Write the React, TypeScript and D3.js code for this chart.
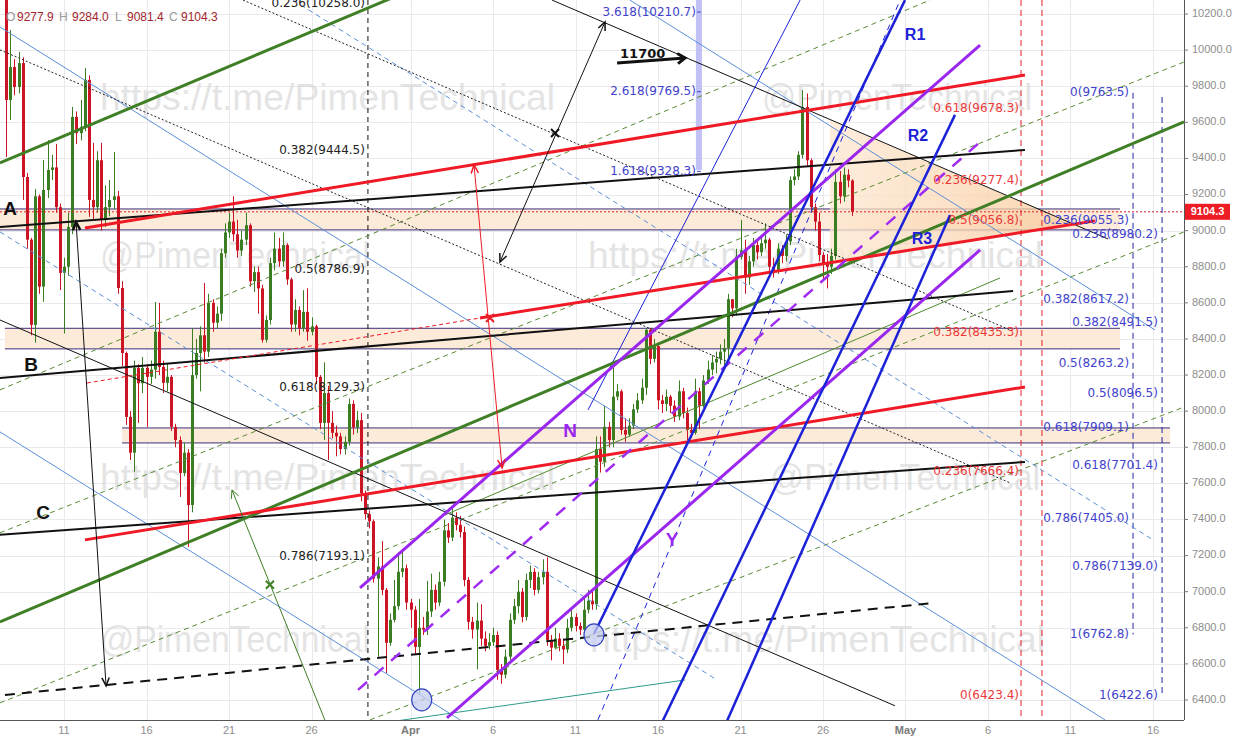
import React from "react";
import * as d3 from "d3";

const WIDTH = 1241;
const HEIGHT = 737;
const PLOT_RIGHT = 1184;
const PLOT_BOTTOM = 720;

const BASE = Date.UTC(2018, 2, 11);
const DAY_MS = 86400000;
const at = (d: number) => new Date(BASE + d * DAY_MS);

const dateTicks = ["2018-03-11", "2018-03-16", "2018-03-21", "2018-03-26", "2018-04-01", "2018-04-06", "2018-04-11", "2018-04-16", "2018-04-21", "2018-04-26", "2018-05-01", "2018-05-06", "2018-05-11", "2018-05-16"];
const priceTicks = [6400, 6600, 6800, 7000, 7200, 7400, 7600, 7800, 8000, 8200, 8400, 8600, 8800, 9000, 9200, 9400, 9600, 9800, 10000, 10200];

// 6h candles, first one opens Mar 7 12:00 (day -3.5 relative to Mar 11)
const CANDLE_START = -3.5;
const CANDLE_STEP = 0.25;
const FIRST_OPEN = 10350;
const closes = [9724, 9906, 9796, 9928, 9297, 8950, 8478, 9190, 8690, 9225, 9336, 9350, 9130, 8766, 8800, 9020, 9630, 9540, 9575, 9835, 9170, 9130, 9390, 9060, 9130, 9170, 9190, 8682, 8322, 7968, 7770, 8240, 8155, 8240, 8190, 8230, 8440, 8245, 8157, 8190, 7913, 7840, 7658, 7770, 7480, 8200, 8322, 8420, 8330, 8600, 8490, 8540, 8875, 8990, 9050, 8980, 8890, 8950, 9030, 8720, 8770, 8680, 8395, 8505, 8820, 8900, 8830, 8920, 8730, 8480, 8560, 8460, 8550, 8440, 8470, 8190, 7935, 8100, 7935, 7880, 7860, 7790, 7830, 8040, 7910, 7950, 7545, 7430, 7390, 7072, 7140, 7010, 6717, 6844, 6920, 7110, 7130, 6940, 6900, 6694, 6800, 6790, 6890, 7010, 6940, 7055, 7340, 7300, 7410, 7370, 7330, 7065, 6833, 6790, 6840, 6740, 6700, 6720, 6760, 6567, 6540, 6640, 6844, 6920, 7000, 6860, 7065, 7110, 7010, 7080, 7110, 6733, 6690, 6740, 6700, 6680, 6800, 6860, 6810, 6790, 6900, 6950, 6930, 7790, 7720, 7913, 7840, 8080, 8110, 7896, 7870, 7920, 8010, 8060, 8130, 8450, 8290, 8360, 8060, 8040, 8080, 8030, 7970, 8110, 7990, 7896, 7880, 8110, 8030, 8170, 8230, 8270, 8290, 8330, 8350, 8620, 8570, 8855, 8890, 8740, 8830, 8920, 8880, 8930, 8950, 8800, 8780, 8900, 8860, 8940, 9280, 9300, 9420, 9685, 9390, 9130, 9050, 8865, 8820, 8800, 8860, 9270, 9190, 9310, 9278, 9104.3];
const highs = [10420, 10111, 9950, 9990, 9960, 9320, 8960, 9230, 9200, 9391, 9502, 9420, 9480, 9150, 8850, 9100, 9685, 9660, 9724, 9900, 9860, 9486, 9440, 9486, 9250, 9280, 9436, 9220, 8720, 8330, 8000, 8280, 8260, 8300, 8260, 8280, 8605, 8600, 8280, 8260, 8200, 7930, 7860, 7824, 7790, 8461, 8400, 8470, 8710, 8650, 8620, 8580, 8900, 9040, 9100, 9190, 9060, 9000, 9100, 9040, 8800, 8800, 8700, 8530, 8850, 8990, 8960, 8990, 8930, 8740, 8620, 8580, 8670, 8680, 8520, 8480, 8200, 8270, 8140, 8000, 7920, 7880, 7860, 8070, 8060, 8000, 7990, 7560, 7450, 7400, 7190, 7280, 7020, 6880, 7065, 7220, 7220, 7150, 6960, 6920, 6960, 6860, 7060, 7100, 7040, 7110, 7400, 7380, 7470, 7440, 7420, 7360, 7080, 6860, 6940, 6930, 6780, 6770, 6800, 6780, 6600, 6680, 6880, 6960, 7065, 7020, 7100, 7145, 7130, 7110, 7180, 7190, 6760, 6800, 6770, 6740, 6850, 6900, 6880, 6830, 6960, 7010, 7000, 7860, 7860, 8030, 7940, 8240, 8150, 8120, 7960, 7960, 8040, 8100, 8180, 8460, 8460, 8400, 8380, 8090, 8120, 8090, 8060, 8170, 8130, 8020, 7930, 8180, 8130, 8200, 8280, 8310, 8330, 8370, 8400, 8650, 8620, 8900, 9060, 8950, 8860, 8960, 8940, 8960, 9040, 8960, 8850, 8930, 8920, 8980, 9300, 9340, 9440, 9779, 9760, 9400, 9150, 9100, 8880, 8870, 8900, 9340, 9330, 9350, 9340, 9284.0];
const lows = [9408, 9613, 9750, 9760, 9170, 8900, 8420, 8380, 8650, 8605, 9180, 9280, 9100, 8671, 8430, 8750, 8980, 9480, 9500, 9550, 9076, 9060, 9100, 9000, 9020, 9080, 9120, 8650, 8250, 7924, 7730, 7664, 7935, 8100, 7913, 8150, 8180, 8200, 8100, 8110, 7890, 7800, 7525, 7640, 7248, 7440, 8180, 8110, 8270, 8300, 8440, 8460, 8500, 8850, 8960, 8940, 8850, 8860, 8920, 8690, 8660, 8540, 8380, 8380, 8480, 8780, 8800, 8800, 8700, 8440, 8440, 8420, 8440, 8390, 8420, 8150, 7900, 7840, 7730, 7850, 7750, 7760, 7760, 7810, 7870, 7880, 7500, 7400, 7350, 7050, 6640, 6980, 6550, 6700, 6830, 6900, 7080, 6900, 6800, 6650, 6430, 6760, 6760, 6860, 6900, 6920, 7030, 7270, 7280, 7340, 7300, 7030, 6790, 6740, 6570, 6700, 6670, 6680, 6700, 6512, 6490, 6520, 6620, 6820, 6880, 6830, 6840, 7020, 6980, 6990, 7040, 6700, 6620, 6680, 6670, 6600, 6660, 6780, 6780, 6760, 6780, 6880, 6900, 6900, 7660, 7690, 7800, 7800, 8060, 7870, 7830, 7860, 7900, 7990, 8040, 8090, 8260, 8270, 8010, 7990, 8000, 7990, 7940, 7950, 7960, 7840, 7850, 7870, 7900, 8020, 8150, 8200, 8210, 8260, 8250, 8270, 8520, 8530, 8840, 8650, 8700, 8800, 8840, 8860, 8900, 8770, 8740, 8760, 8820, 8830, 8920, 9250, 9280, 9400, 9360, 9100, 9000, 8830, 8730, 8680, 8760, 8840, 9150, 9160, 9240, 9081.4];
const lastBar = { open: 9277.9, high: 9284.0, low: 9081.4, close: 9104.3 };

type Pt = [number, number]; // [day offset from Mar 11, price]
type Seg = [Pt, Pt];

const greenThick: Seg[] = [[[-3.88, 9375], [22, 10371]], [[-3.88, 6833], [67.88, 9602]]];
const redThick: Seg[] = [[[1.27, 9015], [58.24, 9862]], [[25.21, 8516], [62.48, 9054]], [[1.27, 7287], [58.24, 8134]]];
const redDashed: Seg[] = [[[1.39, 8156], [25.21, 8516]]];
const blackThick: Seg[] = [[[-3.88, 9020], [58.24, 9447]], [[-3.88, 8184], [57.52, 8666]], [[-3.88, 7315], [58.24, 7719]]];
const blackDashedThick: Seg[] = [[[-3.58, 6428], [52.79, 6938]]];
const blackDotted: Seg[] = [[[-3.88, 10001], [57.33, 7603]], [[10.85, 10277], [57.33, 8450]]];
const blackThin: Seg[] = [[[29.58, 10277], [63.27, 8954]], [[-3.88, 8505], [50.36, 6368]]];
const lightBlue: Seg[] = [[[-3.88, 10128], [63.09, 6290]], [[-3.88, 7885], [24.0, 6290]], [[34.3, 10277], [66.12, 8450]]];
const lightBlueDashed: Seg[] = [[[-3.88, 8993], [39.58, 6511]], [[13.88, 10277], [66.0, 7287]]];
const purpleThick: Seg[] = [[[17.94, 7021], [55.52, 10028]], [[23.21, 6301], [55.52, 8893]]];
const purpleDashed: Seg[] = [[[17.82, 6456], [55.52, 9491]]];
const greenDashed: Seg[] = [[[-3.88, 8118], [52.48, 10277]], [[-3.88, 7326], [67.88, 9934]], [[-3.88, 6384], [67.88, 8993]], [[18.55, 6290], [67.88, 8023]]];
const greenThin: Seg[] = [[[23.09, 7425], [56.73, 8738]]];
const tealThin: Seg[] = [[[19.76, 6279], [37.64, 6511]]];
const blueThick: Seg[] = [[[32.12, 6766], [50.97, 10277]], [[35.82, 6196], [54.0, 9641]], [[39.76, 6196], [53.7, 9087]]];
const blueThin: Seg[] = [[[31.76, 8007], [44.61, 10277]]];
const blueDashed: Seg[] = [[[32.36, 6290], [50.67, 10277]]];

const doubleArrowsBlack: Seg[] = [[[0.73, 9048], [2.55, 6478]], [[26.42, 8826], [32.79, 10156]]];
const doubleArrowsRed: Seg[] = [[[24.85, 9364], [26.55, 7686]]];
const arrow11700: Seg = [[33.52, 9929], [37.64, 9956]];
const greenArrow: Seg = [[16.0, 6246], [10.18, 7564]];

const zones = [
  { from: -3.88, to: 64.0, top: 9120, bottom: 9004 },
  { from: -3.58, to: 64.0, top: 8459, bottom: 8345 },
  { from: 3.52, to: 67.03, top: 7907, bottom: 7824 },
];
const triangle: Pt[] = [[46.42, 9613], [61.15, 9037], [46.42, 8821]];

const fibBlack = [
  { t: "0.236(10258.0)", p: 10258.0 }, { t: "0.382(9444.5)", p: 9444.5 }, { t: "0.5(8786.9)", p: 8786.9 },
  { t: "0.618(8129.3)", p: 8129.3 }, { t: "0.786(7193.1)", p: 7193.1 },
];
const fibRed = [
  { t: "0.618(9678.3)", p: 9678.3 }, { t: "0.236(9277.4)", p: 9277.4 }, { t: "0.5(9056.8)", p: 9056.8 },
  { t: "0.382(8435.3)", p: 8435.3 }, { t: "0.236(7666.4)", p: 7666.4 }, { t: "0(6423.4)", p: 6423.4 },
];
const fibBlueExt = [{ t: "3.618(10210.7)", p: 10210.7 }, { t: "2.618(9769.5)", p: 9769.5 }, { t: "1.618(9328.3)", p: 9328.3 }];
const fibBlueA = [
  { t: "0(9763.5)", p: 9763.5 }, { t: "0.236(9055.3)", p: 9055.3 }, { t: "0.382(8617.2)", p: 8617.2 }, { t: "0.5(8263.2)", p: 8263.2 },
  { t: "0.618(7909.1)", p: 7909.1 }, { t: "0.786(7405.0)", p: 7405.0 }, { t: "1(6762.8)", p: 6762.8 },
];
const fibBlueB = [
  { t: "0.236(8980.2)", p: 8980.2 }, { t: "0.382(8491.5)", p: 8491.5 }, { t: "0.5(8096.5)", p: 8096.5 },
  { t: "0.618(7701.4)", p: 7701.4 }, { t: "0.786(7139.0)", p: 7139.0 }, { t: "1(6422.6)", p: 6422.6 },
];

const letterLabels = [
  { t: "A", d: -3.27, p: 9087, c: "#111" }, { t: "B", d: -2.0, p: 8223, c: "#111" }, { t: "C", d: -1.27, p: 7403, c: "#111" },
  { t: "N", d: 30.67, p: 7857, c: "#9b27ee" }, { t: "Y", d: 36.85, p: 7254, c: "#9b27ee" },
  { t: "R1", d: 51.58, p: 10056, c: "#1c22d8" }, { t: "R2", d: 51.76, p: 9497, c: "#1c22d8" }, { t: "R3", d: 52.0, p: 8926, c: "#1c22d8" },
];
const circles: Pt[] = [[21.68, 6401], [32.12, 6761]];
const crosses = [{ d: 25.82, p: 8516, c: "#ee1c25" }, { d: 29.76, p: 9541, c: "#111" }, { d: 12.48, p: 7038, c: "#3f7f25" }];

const watermarks = [
  { t: "https://t.me/PimenTechnical", x: 100, y: 110, w: 455 }, { t: "@PimenTechnical", x: 762, y: 110, w: 270 },
  { t: "@PimenTechnical", x: 100, y: 268, w: 270 }, { t: "https://t.me/PimenTechnical", x: 588, y: 268, w: 455 },
  { t: "https://t.me/PimenTechnical", x: 100, y: 490, w: 455 }, { t: "@PimenTechnical", x: 770, y: 490, w: 270 },
  { t: "@PimenTechnical", x: 100, y: 652, w: 270 }, { t: "https://t.me/PimenTechnical", x: 590, y: 652, w: 455 },
];

const xScale = d3.scaleUtc().domain([at(0), at(66)]).range([64, 64 + 66 * 16.5]);
const yScale = d3.scaleLinear().domain([6400, 10200]).range([700, 14]);
const X = (d: number) => xScale(at(d));

function head(x1: number, y1: number, x2: number, y2: number, len = 9, ang = 0.42) {
  const a = Math.atan2(y2 - y1, x2 - x1);
  const ax = x2 - len * Math.cos(a - ang), ay = y2 - len * Math.sin(a - ang);
  const bx = x2 - len * Math.cos(a + ang), by = y2 - len * Math.sin(a + ang);
  return `M${ax},${ay}L${x2},${y2}L${bx},${by}`;
}

function Lines({ segs, stroke, width, dash, opacity }: { segs: Seg[]; stroke: string; width: number; dash?: string; opacity?: number }) {
  return (
    <g stroke={stroke} strokeWidth={width} strokeDasharray={dash} opacity={opacity} fill="none">
      {segs.map((s, i) => (
        <line key={i} x1={X(s[0][0])} y1={yScale(s[0][1])} x2={X(s[1][0])} y2={yScale(s[1][1])} />
      ))}
    </g>
  );
}

export default function App() {
  const candles = closes.map((c, i) => {
    const open = i === 0 ? FIRST_OPEN : i === closes.length - 1 ? lastBar.open : closes[i - 1];
    return { t: CANDLE_START + i * CANDLE_STEP, o: open, h: highs[i], l: lows[i], c };
  });
  const fibFont = "'DejaVu Sans', Verdana, sans-serif";
  const axisFont = "'Liberation Sans', Arial, sans-serif";
  const yLast = yScale(lastBar.close);

  return (
    <svg width={WIDTH} height={HEIGHT} style={{ position: "absolute", left: 0, top: 0, background: "#fff" }}>
      <defs>
        <clipPath id="plot"><rect x={0} y={0} width={PLOT_RIGHT} height={PLOT_BOTTOM} /></clipPath>
        <linearGradient id="tri" x1="0" x2="1" y1="0" y2="0">
          <stop offset="0" stopColor="#fde7d0" />
          <stop offset="1" stopColor="#f8c99a" />
        </linearGradient>
      </defs>
      <rect x={0} y={0} width={WIDTH} height={HEIGHT} fill="#fff" />
      <g clipPath="url(#plot)">
        <g stroke="#e9e9ee" strokeWidth={1}>
          {dateTicks.map((s) => {
            const x = Math.round(xScale(new Date(s + "T00:00:00Z"))) + 0.5;
            return <line key={s} x1={x} x2={x} y1={0} y2={PLOT_BOTTOM} />;
          })}
          {priceTicks.map((p) => {
            const y = Math.round(yScale(p)) + 0.5;
            return <line key={p} x1={0} x2={PLOT_RIGHT} y1={y} y2={y} />;
          })}
        </g>
        <g fill="#dadada" opacity={0.7} fontFamily="'Liberation Sans', Arial, sans-serif" fontSize={36}>
          {watermarks.map((w, i) => (
            <text key={i} x={w.x} y={w.y} textLength={w.w} lengthAdjust="spacingAndGlyphs">{w.t}</text>
          ))}
        </g>
        {zones.map((z, i) => (
          <g key={i}>
            <rect x={X(z.from)} y={yScale(z.top)} width={X(z.to) - X(z.from)} height={yScale(z.bottom) - yScale(z.top)} fill="#fdebd9" />
            <line x1={X(z.from)} x2={X(z.to)} y1={yScale(z.top)} y2={yScale(z.top)} stroke="#3b2f7a" strokeWidth={1} />
            <line x1={X(z.from)} x2={X(z.to)} y1={yScale(z.bottom)} y2={yScale(z.bottom)} stroke="#3b2f7a" strokeWidth={1} />
          </g>
        ))}
        <polygon points={triangle.map((p) => `${X(p[0])},${yScale(p[1])}`).join(" ")} fill="url(#tri)" opacity={0.75} />
        <g>
          {candles.map((k, i) => {
            const x = Math.round(X(k.t));
            const up = k.c >= k.o;
            const col = up ? "#3b7d23" : "#cc1424";
            const yT = yScale(Math.max(k.o, k.c));
            const yB = yScale(Math.min(k.o, k.c));
            return (
              <g key={i}>
                <line x1={x + 0.5} x2={x + 0.5} y1={yScale(k.h)} y2={yScale(k.l)} stroke={col} strokeWidth={1} />
                <rect x={x - 1} y={yT} width={3} height={Math.max(1, yB - yT)} fill={col} />
              </g>
            );
          })}
        </g>
        <line x1={0} x2={PLOT_RIGHT} y1={yLast} y2={yLast} stroke="#e0202a" strokeWidth={1} strokeDasharray="2,2" />
        <line x1={X(18.42)} x2={X(18.42)} y1={0} y2={PLOT_BOTTOM} stroke="#111" strokeWidth={1} strokeDasharray="5,4" />
        <line x1={X(58.0)} x2={X(58.0)} y1={0} y2={PLOT_BOTTOM} stroke="#e0202a" strokeWidth={1} strokeDasharray="6,4" />
        <line x1={X(59.27)} x2={X(59.27)} y1={0} y2={PLOT_BOTTOM} stroke="#e0202a" strokeWidth={1} strokeDasharray="6,4" />
        <line x1={X(64.79)} x2={X(64.79)} y1={yScale(9763.5)} y2={yScale(6762.8)} stroke="#2226a8" strokeWidth={1} strokeDasharray="6,4" />
        <line x1={X(66.55)} x2={X(66.55)} y1={yScale(9740)} y2={yScale(6422.6)} stroke="#2226a8" strokeWidth={1} strokeDasharray="6,4" />
        <line x1={X(38.48)} x2={X(38.48)} y1={0} y2={yScale(9336)} stroke="#b7b7f4" strokeWidth={6} opacity={0.85} />
        <Lines segs={greenDashed} stroke="#5b8a35" width={1} dash="5,4" />
        <Lines segs={lightBlue} stroke="#5b8fd8" width={1} />
        <Lines segs={lightBlueDashed} stroke="#5b8fd8" width={1} dash="5,4" />
        <Lines segs={blackDotted} stroke="#222" width={1} dash="2,2" />
        <Lines segs={blackThin} stroke="#111" width={1} />
        <Lines segs={greenThin} stroke="#4f8a2a" width={1} />
        <Lines segs={tealThin} stroke="#2f9c8c" width={1} />
        <Lines segs={blueThin} stroke="#1c22d8" width={1} />
        <Lines segs={blueDashed} stroke="#1c22d8" width={1} dash="6,5" />
        <Lines segs={blackThick} stroke="#111" width={2} />
        <Lines segs={blackDashedThick} stroke="#111" width={2} dash="10,7" />
        <Lines segs={greenThick} stroke="#3f7f25" width={3} />
        <Lines segs={redDashed} stroke="#ee1c25" width={1} dash="4,3" />
        <Lines segs={redThick} stroke="#f01a26" width={3} />
        <Lines segs={purpleDashed} stroke="#a02cf2" width={2.5} dash="12,10" />
        <Lines segs={purpleThick} stroke="#9b27ee" width={3} />
        <Lines segs={blueThick} stroke="#1c22d8" width={2.5} />
        {doubleArrowsBlack.concat(doubleArrowsRed).map((s, i) => {
          const x1 = X(s[0][0]), y1 = yScale(s[0][1]), x2 = X(s[1][0]), y2 = yScale(s[1][1]);
          const col = i < doubleArrowsBlack.length ? "#111" : "#ee1c25";
          return (
            <g key={i} stroke={col} fill="none" strokeWidth={1}>
              <line x1={x1} y1={y1} x2={x2} y2={y2} />
              <path d={head(x1, y1, x2, y2)} strokeWidth={1.5} />
              <path d={head(x2, y2, x1, y1)} strokeWidth={i === 0 ? 2.5 : 1.5} />
            </g>
          );
        })}
        {(() => {
          const s = arrow11700;
          const x1 = X(s[0][0]), y1 = yScale(s[0][1]), x2 = X(s[1][0]), y2 = yScale(s[1][1]);
          return (
            <g stroke="#111" fill="none" strokeWidth={3}>
              <line x1={x1} y1={y1} x2={x2} y2={y2} />
              <path d={head(x1, y1, x2, y2, 9, 0.6)} />
            </g>
          );
        })()}
        {(() => {
          const s = greenArrow;
          const x1 = X(s[0][0]), y1 = yScale(s[0][1]), x2 = X(s[1][0]), y2 = yScale(s[1][1]);
          return (
            <g stroke="#3f7f25" fill="none" strokeWidth={1}>
              <line x1={x1} y1={y1} x2={x2} y2={y2} />
              <path d={head(x1, y1, x2, y2, 9, 0.45)} />
            </g>
          );
        })()}
        {circles.map((c, i) => (
          <ellipse key={i} cx={X(c[0])} cy={yScale(c[1])} rx={10} ry={11} fill="#c7cdf0" fillOpacity={0.75} stroke="#3444c4" strokeWidth={1.2} />
        ))}
        {crosses.map((c, i) => {
          const x = X(c.d), y = yScale(c.p);
          return <path key={i} d={`M${x - 4},${y - 4}L${x + 4},${y + 4}M${x - 4},${y + 4}L${x + 4},${y - 4}`} stroke={c.c} strokeWidth={2} />;
        })}
        <g fontFamily={fibFont} fontSize={12} textAnchor="end" dominantBaseline="middle">
          {fibBlack.map((f) => <text key={f.t} x={X(18.24)} y={yScale(f.p)} fill="#222">{f.t}</text>)}
          {fibRed.map((f) => <text key={f.t + f.p} x={X(57.88)} y={yScale(f.p)} fill="#ec3a3a">{f.t}</text>)}
          {fibBlueExt.map((f) => <text key={f.t} x={X(38.3)} y={yScale(f.p)} fill="#4242cc">{f.t}</text>)}
          {fibBlueA.map((f) => <text key={f.t} x={X(64.55)} y={yScale(f.p)} fill="#4242cc">{f.t}</text>)}
          {fibBlueB.map((f) => <text key={f.t} x={X(66.3)} y={yScale(f.p)} fill="#4242cc">{f.t}</text>)}
        </g>
        <g stroke="#4242cc" strokeWidth={1}>
          {fibBlueExt.map((f) => <line key={f.t} x1={X(38.36)} x2={X(38.6)} y1={yScale(f.p)} y2={yScale(f.p)} />)}
        </g>
        <text x={X(33.7)} y={yScale(9956)} fontFamily={fibFont} fontWeight="bold" fontSize={13} fill="#111">11700</text>
        {letterLabels.map((l) => (
          <text key={l.t} x={X(l.d)} y={yScale(l.p)} fill={l.c} fontFamily="'Liberation Sans', Arial, sans-serif" fontWeight="bold" fontSize={l.t.length > 1 ? 16 : 19} textAnchor="middle">{l.t}</text>
        ))}
      </g>
      <g fontFamily={axisFont} fontSize={12}>
        <text x={6} y={21} fill="#999">O</text>
        <text x={17} y={21} fill="#a3262d">{lastBar.open.toFixed(1)}</text>
        <text x={59} y={21} fill="#999">H</text>
        <text x={72} y={21} fill="#a3262d">{lastBar.high.toFixed(1)}</text>
        <text x={115} y={21} fill="#999">L</text>
        <text x={127} y={21} fill="#a3262d">{lastBar.low.toFixed(1)}</text>
        <text x={169} y={21} fill="#999">C</text>
        <text x={181} y={21} fill="#a3262d">{lastBar.close.toFixed(1)}</text>
      </g>
      <line x1={PLOT_RIGHT + 0.5} x2={PLOT_RIGHT + 0.5} y1={0} y2={PLOT_BOTTOM} stroke="#555" strokeWidth={1} />
      <line x1={0} x2={PLOT_RIGHT} y1={PLOT_BOTTOM + 0.5} y2={PLOT_BOTTOM + 0.5} stroke="#555" strokeWidth={1} />
      <g fontFamily={axisFont} fontSize={11} fill="#8d8d8d">
        {priceTicks.map((p) => (
          <g key={p}>
            <line x1={PLOT_RIGHT} x2={PLOT_RIGHT + 4} y1={yScale(p)} y2={yScale(p)} stroke="#777" />
            <text x={PLOT_RIGHT + 8} y={yScale(p)} dominantBaseline="middle">{p.toFixed(1)}</text>
          </g>
        ))}
        {dateTicks.map((s) => {
          const dte = new Date(s + "T00:00:00Z");
          const isMonth = dte.getUTCDate() === 1;
          const lbl = isMonth ? d3.utcFormat("%b")(dte) : String(dte.getUTCDate());
          return (
            <text key={s} x={xScale(dte)} y={734} textAnchor="middle" fontWeight={isMonth ? "bold" : "normal"} fill={isMonth ? "#7a7a7a" : "#8d8d8d"}>{lbl}</text>
          );
        })}
      </g>
      <rect x={PLOT_RIGHT + 1} y={yLast - 8} width={45} height={16} fill="#ee1c25" />
      <text x={PLOT_RIGHT + 23.5} y={yLast} fill="#fff" fontFamily={axisFont} fontWeight="bold" fontSize={11} textAnchor="middle" dominantBaseline="middle">{lastBar.close.toFixed(1)}</text>
    </svg>
  );
}
